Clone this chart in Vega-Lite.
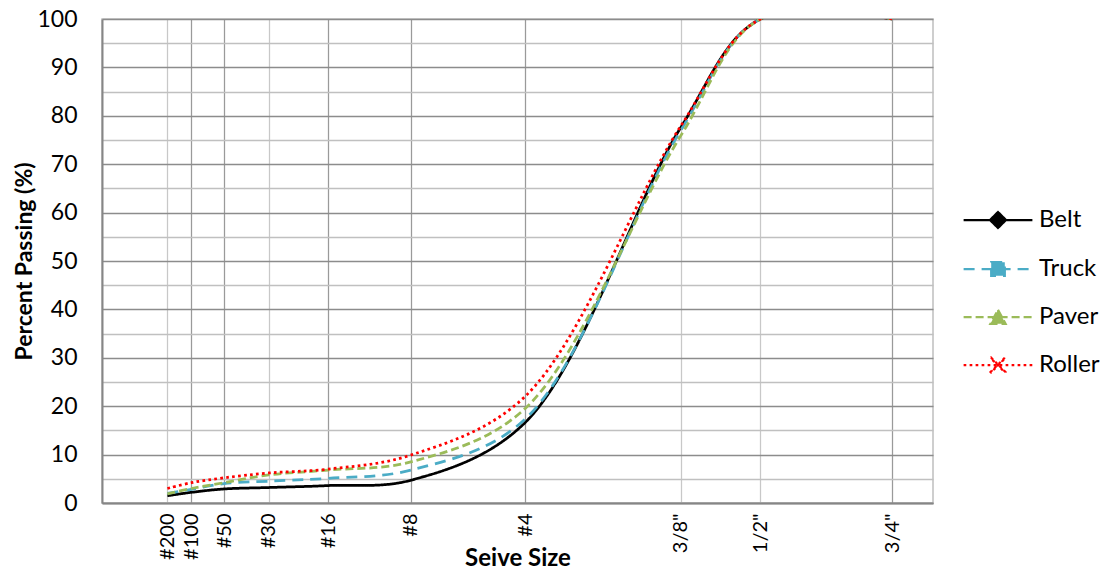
{
  "$schema": "https://vega.github.io/schema/vega-lite/v6.json",
  "width": 831,
  "height": 484,
  "autosize": "none",
  "padding": {"left": 102, "top": 19, "right": 171, "bottom": 71},
  "background": "white",
  "config": {
    "font": "Lato",
    "view": {"stroke": "#bfbfbf", "strokeWidth": 1.5},
    "axis": {"labelColor": "#000000", "titleColor": "#000000", "labelFontWeight": "normal"}
  },
  "data": {
    "values": [
      {"series": "Belt", "size": 0.075, "passing": 1.5},
      {"series": "Belt", "size": 0.15, "passing": 2.2},
      {"series": "Belt", "size": 0.3, "passing": 2.9},
      {"series": "Belt", "size": 0.6, "passing": 3.2},
      {"series": "Belt", "size": 1.18, "passing": 3.6},
      {"series": "Belt", "size": 2.36, "passing": 4.7},
      {"series": "Belt", "size": 4.75, "passing": 16.6},
      {"series": "Belt", "size": 9.525, "passing": 77.5},
      {"series": "Belt", "size": 12.7, "passing": 100},
      {"series": "Belt", "size": 19.05, "passing": 100},
      {"series": "Truck", "size": 0.075, "passing": 2.0},
      {"series": "Truck", "size": 0.15, "passing": 2.8},
      {"series": "Truck", "size": 0.3, "passing": 4.0},
      {"series": "Truck", "size": 0.6, "passing": 4.5},
      {"series": "Truck", "size": 1.18, "passing": 5.1},
      {"series": "Truck", "size": 2.36, "passing": 6.8},
      {"series": "Truck", "size": 4.75, "passing": 17.3},
      {"series": "Truck", "size": 9.525, "passing": 76.9},
      {"series": "Truck", "size": 12.7, "passing": 100},
      {"series": "Truck", "size": 19.05, "passing": 100},
      {"series": "Paver", "size": 0.075, "passing": 1.9},
      {"series": "Paver", "size": 0.15, "passing": 3.0},
      {"series": "Paver", "size": 0.3, "passing": 4.2},
      {"series": "Paver", "size": 0.6, "passing": 5.8},
      {"series": "Paver", "size": 1.18, "passing": 6.8},
      {"series": "Paver", "size": 2.36, "passing": 8.5},
      {"series": "Paver", "size": 4.75, "passing": 19.5},
      {"series": "Paver", "size": 9.525, "passing": 75.8},
      {"series": "Paver", "size": 12.7, "passing": 100},
      {"series": "Paver", "size": 19.05, "passing": 100},
      {"series": "Roller", "size": 0.075, "passing": 3.0},
      {"series": "Roller", "size": 0.15, "passing": 4.2},
      {"series": "Roller", "size": 0.3, "passing": 5.2},
      {"series": "Roller", "size": 0.6, "passing": 6.2},
      {"series": "Roller", "size": 1.18, "passing": 7.0},
      {"series": "Roller", "size": 2.36, "passing": 9.9},
      {"series": "Roller", "size": 4.75, "passing": 22.0},
      {"series": "Roller", "size": 9.525, "passing": 77.8},
      {"series": "Roller", "size": 12.7, "passing": 100},
      {"series": "Roller", "size": 19.05, "passing": 100}
    ]
  },
  "mark": {"type": "line", "interpolate": "catmull-rom", "clip": true, "strokeWidth": 2.75},
  "encoding": {
    "x": {
      "field": "size",
      "type": "quantitative",
      "scale": {"type": "pow", "exponent": 0.45, "domain": [0, 21.3], "nice": false},
      "axis": {
        "title": "Seive Size",
        "titleFontSize": 24,
        "titleFontWeight": "bold",
        "titleX": 415.5,
        "titleY": 62,
        "titleBaseline": "alphabetic",
        "values": [0.075, 0.15, 0.3, 0.6, 1.18, 2.36, 4.75, 9.525, 12.7, 19.05],
        "labelExpr": "datum.value < 0.1 ? '#200' : datum.value < 0.2 ? '#100' : datum.value < 0.4 ? '#50' : datum.value < 1 ? '#30' : datum.value < 2 ? '#16' : datum.value < 3 ? '#8' : datum.value < 5 ? '#4' : datum.value < 10 ? '3/8\"' : datum.value < 15 ? '1/2\"' : '3/4\"'",
        "labelAngle": -90,
        "labelFontSize": 20,
        "labelPadding": 10,
        "labelOverlap": false,
        "labelFlush": false,
        "ticks": false,
        "tickSize": 0,
        "grid": true,
        "gridColor": {"condition": {"test": "datum.value < 0.1 || (datum.value > 0.5 && datum.value < 0.7) || (datum.value > 9 && datum.value < 13)", "value": "#c8c8c8"}, "value": "#9a9a9a"},
        "gridWidth": 1.25,
        "domainColor": "#868686",
        "domainWidth": 2
      }
    },
    "y": {
      "field": "passing",
      "type": "quantitative",
      "scale": {"domain": [0, 100], "nice": false},
      "axis": {
        "title": "Percent Passing (%)",
        "titleFontSize": 23,
        "titleFontWeight": "bold",
        "titleX": -71,
        "titleY": 242,
        "titleBaseline": "alphabetic",
        "values": [0, 5, 10, 15, 20, 25, 30, 35, 40, 45, 50, 55, 60, 65, 70, 75, 80, 85, 90, 95, 100],
        "labelExpr": "datum.value % 10 === 0 ? datum.label : ''",
        "labelFontSize": 23,
        "labelPadding": 25,
        "ticks": false,
        "tickSize": 0,
        "grid": true,
        "gridColor": {"condition": {"test": "datum.value % 10 === 0", "value": "#8c8c8c"}, "value": "#c0c0c0"},
        "gridWidth": 1.5,
        "domainColor": "#868686",
        "domainWidth": 2
      }
    },
    "color": {
      "field": "series",
      "type": "nominal",
      "sort": ["Belt", "Truck", "Paver", "Roller"],
      "scale": {"domain": ["Belt", "Truck", "Paver", "Roller"], "range": ["#000000", "#4BACC6", "#9BBB59", "#FF0000"]},
      "legend": {
        "title": null,
        "orient": "none",
        "legendX": 884,
        "legendY": 189,
        "padding": 0,
        "labelFontSize": 24,
        "labelColor": "#000000",
        "labelOffset": 29,
        "rowPadding": 24,
        "symbolSize": 256,
        "symbolStrokeWidth": 2.25,
        "encode": {
          "symbols": {
            "update": {
              "shape": {"signal": "datum.value === 'Belt' ? 'M-4.3,0L4.3,0M0,-1L1,0L0,1L-1,0Z' : datum.value === 'Truck' ? 'M-4.3,0L4.3,0M-0.85,-0.85L0.85,-0.85L0.85,0.85L-0.85,0.85Z' : datum.value === 'Paver' ? 'M-4.3,0L4.3,0M0,-0.9L0.95,0.85L-0.95,0.85Z' : 'M-4.3,0L4.3,0M-0.87,-0.93L0.93,0.87L0.87,0.93L-0.93,-0.87ZM-0.87,0.93L-0.93,0.87L0.87,-0.93L0.93,-0.87Z'"},
              "fill": {"scale": "color", "field": "value"},
              "fillOpacity": {"value": 1},
              "opacity": {"value": 1},
              "size": {"value": 256}
            }
          }
        }
      }
    },
    "strokeDash": {
      "field": "series",
      "type": "nominal",
      "sort": ["Belt", "Truck", "Paver", "Roller"],
      "scale": {"domain": ["Belt", "Truck", "Paver", "Roller"], "range": [[1, 0], [11, 7], [8, 4], [2.7, 3.3]]},
      "legend": null
    }
  }
}
